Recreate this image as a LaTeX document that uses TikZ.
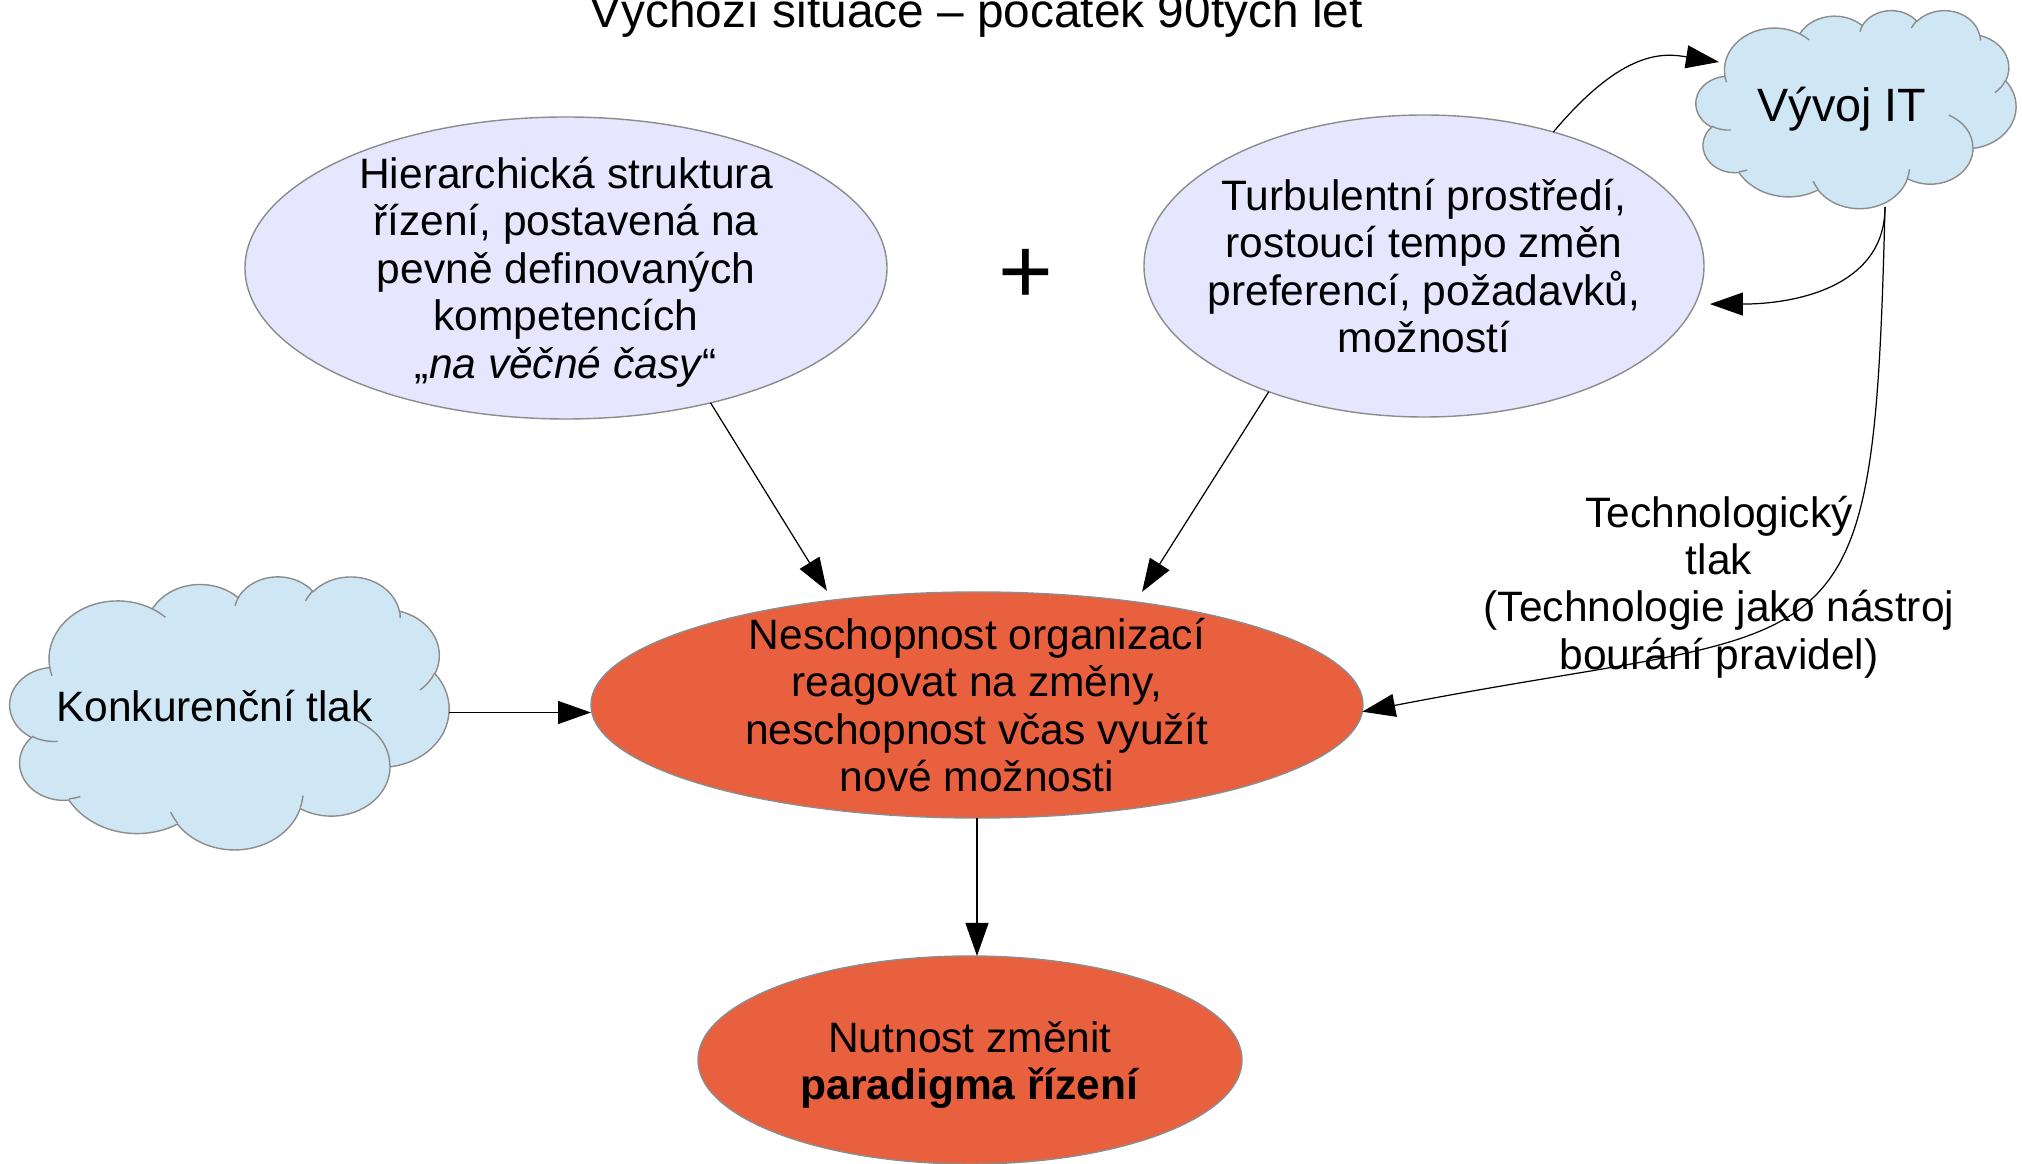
\documentclass[tikz,border=0pt]{standalone}
\usepackage{fontspec}
\setmainfont{Liberation Sans}
\usetikzlibrary{shapes.geometric,arrows.meta}

\definecolor{ovalfill}{HTML}{E6E6FF}
\definecolor{alarmfill}{HTML}{E9603E}
\definecolor{cloudfill}{HTML}{CFE7F5}
\definecolor{rimgray}{HTML}{8C8C8C}

% one puff of a cloud: x radius, y radius, start angle, sweep (clockwise)
\newcommand{\puff}[4]{arc[x radius=#1, y radius=#2,
  start angle={atan2(#1*sin(#3),#2*cos(#3))},
  delta angle={mod(atan2(#1*sin(#3+#4),#2*cos(#3+#4))-atan2(#1*sin(#3),#2*cos(#3))+720,360)}]}

% cloud in a box: top left corner, width, height
\newcommand{\cloudat}[3]{%
  \begin{scope}[shift={#1}, xscale=#2/43.2, yscale=-#3/43.2]
    % outline
    \path[cloudpuff] (3.900,14.370)
      \puff{6.753}{9.190}{-190.4875}{123.7805}
      \puff{5.333}{7.267}{-144.1024}{89.9452}
      \puff{4.365}{5.945}{-145.8079}{99.7230}
      \puff{4.857}{6.595}{-130.9861}{117.2417}
      \puff{5.333}{7.273}{-78.7089}{109.0269}
      \puff{6.775}{9.220}{-46.2673}{130.2690}
      \puff{5.785}{7.867}{0.6250}{114.0333}
      \puff{6.752}{9.215}{22.4516}{115.1726}
      \puff{7.720}{10.543}{66.2426}{75.7110}
      \puff{4.360}{5.918}{-274.9421}{146.7356}
      \puff{4.345}{5.945}{-246.8285}{152.5189} -- cycle;
    % inner folds
    \path[cloudrim]
      (4.693,26.177) \puff{4.345}{5.945}{86.7420}{26.4295}
      (6.928,34.899) \puff{4.360}{5.918}{73.6105}{11.4475}
      (16.478,39.090) \puff{6.752}{9.215}{137.6242}{14.0811}
      (28.827,34.751) \puff{6.752}{9.215}{6.4533}{15.9984}
      (34.129,22.954) \puff{5.785}{7.867}{-70.2924}{70.9174}
      (41.798,15.354) \puff{5.333}{7.273}{30.3180}{27.7515}
      (38.324,5.426) \puff{4.857}{6.595}{-13.7443}{14.8589}
      (29.078,3.952) \puff{4.857}{6.595}{-149.1815}{18.1954}
      (22.141,4.720) \puff{4.365}{5.945}{-163.4943}{17.6864}
      (14.000,5.192) \puff{6.753}{9.190}{-66.7070}{12.3194}
      (4.127,15.789) \puff{6.753}{9.190}{157.6544}{11.8582};
  \end{scope}}

\begin{document}
\begin{tikzpicture}[
    oval/.style={ellipse, draw=rimgray, fill=ovalfill, inner sep=0pt, outer sep=0pt},
    alarm/.style={ellipse, draw=rimgray, fill=alarmfill, inner sep=0pt, outer sep=0pt},
    cloudbox/.style={rectangle, inner sep=0pt, outer sep=0pt},
    cloudpuff/.style={draw=rimgray, fill=cloudfill, line width=0.4pt},
    cloudrim/.style={draw=rimgray, line width=0.4pt},
    txt/.style={align=center, font=\fontsize{12.1}{13.5}\selectfont},
    arr/.style={-{Triangle[length=3.3mm, width=2.3mm]}, line width=0.35pt}
]

    % --- Canvas ---
    \useasboundingbox (0,0) rectangle (20.22,-11.64);

    % --- Title (cut at the top edge) ---
    \node[font=\fontsize{13.6}{15}\selectfont, anchor=base] (title) at (9.76,-0.28) {Výchozí situace – počátek 90tých let};

    % --- Upper ovals ---
    % Hierarchy oval
    \node[oval, minimum width=6.42cm, minimum height=3.02cm] (hier) at (5.66,-2.68) {};
    \node[txt] (hiertext) at ([yshift=-0.04cm]hier.center) {Hierarchická struktura\\ řízení, postavená na\\ pevně definovaných\\ kompetencích\\ „\textit{na věčné časy}“};
    % Plus sign between them
    \node[font=\fontsize{26.7}{28}\selectfont] (plus) at (10.255,-2.76) {+};
    % Turbulent environment oval
    \node[oval, minimum width=5.60cm, minimum height=3.02cm] (turb) at (14.24,-2.66) {};
    \node[txt] (turbtext) at (turb) {Turbulentní prostředí,\\ rostoucí tempo změn\\ preferencí, požadavků,\\ možností};

    % --- Clouds ---
    % IT cloud, top right
    \cloudat{(16.96,-0.10)}{3.20}{1.98}
    \node[cloudbox, minimum width=3.20cm, minimum height=1.98cm] (vyvoj) at (18.56,-1.09) {};
    \node[font=\fontsize{13.3}{15}\selectfont] (vyvojtext) at (18.42,-1.094) {Vývoj IT};
    % Competition cloud, left
    \cloudat{(0.10,-5.76)}{4.39}{2.73}
    \node[cloudbox, minimum width=4.39cm, minimum height=2.73cm] (konk) at (2.295,-7.125) {};
    \node[txt] (konktext) at (2.145,-7.06) {Konkurenční tlak};

    % --- Lower ovals ---
    \node[alarm, minimum width=7.72cm, minimum height=2.26cm] (nesch) at (9.77,-7.05) {};
    \node[txt] (neschtext) at (nesch) {Neschopnost organizací\\ reagovat na změny,\\ neschopnost včas využít\\ nové možnosti};
    \node[alarm, minimum width=5.44cm, minimum height=2.08cm] (nutnost) at (9.70,-10.60) {};
    \node[txt] (nutnosttext) at ([yshift=-0.05cm]nutnost.center) {Nutnost změnit\\ \textbf{paradigma řízení}};

    % --- Side label ---
    \node[txt] (techlabel) at (17.19,-5.87) {Technologický\\ tlak\\ (Technologie jako nástroj\\ bourání pravidel)};

    % --- Connectors ---
    \coordinate (itfoot) at (18.85,-2.07);
    \coordinate (itin) at (17.19,-0.62);
    % Both upper ovals feed the central one
    \draw[arr, shorten >=1.1mm] (hier.-43) -- (nesch.144);
    \draw[arr, shorten >=1.2mm] (turb.-141) -- (nesch.33);
    % Competition pushes from the left
    \draw[arr] (konk.east) -- (konk.east -| nesch.west);
    % Result below
    \draw[arr] (nesch.south) -- (nesch.south |- nutnost.north);
    % Loop between environment and IT
    \draw[arr] (turb.46) to[out=50, in=171, out distance=1.1cm, in distance=0.55cm] (itin);
    \draw[arr, shorten >=1.5mm] (itfoot) to[out=-90, in=0, out distance=0.8cm, in distance=1.0cm] (turb.-8);
    % Technology push into the central oval
    \draw[arr] (itfoot) to[out=-91.4, in=11, out distance=4.84cm, in distance=4.95cm] (nesch.-1);

\end{tikzpicture}
\end{document}
